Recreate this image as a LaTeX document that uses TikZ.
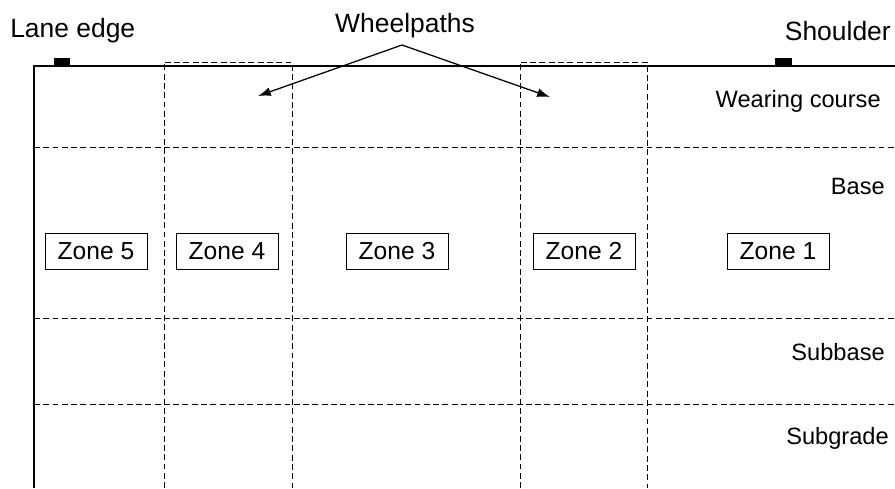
\documentclass[tikz,border=0pt]{standalone}
\usepackage{fontspec}
\setmainfont{Liberation Sans}
\usepackage{tikz}
\usetikzlibrary{arrows.meta}

\begin{document}
\begin{tikzpicture}[x=0.025cm, y=-0.025cm,
% common options for the zone boxes:
zone/.style = {draw, line width=0.6pt, align=center, inner sep=0,
            minimum width=2.55cm, minimum height=0.9cm,
            font=\fontsize{17.5}{20}\selectfont},
% common options for the layer names:
layer/.style = {anchor=east, inner sep=0, font=\fontsize{16.8}{20}\selectfont},
% common options for the grid:
grid/.style = {line width=0.65pt, dash pattern=on 4.2pt off 2.4pt},
every node/.style = {font=\fontsize{18.8}{22}\selectfont}]
\useasboundingbox (0,0) rectangle (895,488);
% outer edge of the lane
\draw[line width=0.75pt] (895,66) -- (34,66) -- (34,488);
\fill (54,58) rectangle (70,66);
\fill (775,58) rectangle (792,66);
% layers
\draw[grid] (34,147) -- (895,147);
\draw[grid] (34,318) -- (895,318);
\draw[grid] (34,404) -- (895,404);
% wheelpaths
\draw[grid] (164,488) -- (164,62) -- (292,62) -- (292,488);
\draw[grid] (520,488) -- (520,62) -- (647,62) -- (647,488);
% labels
\node[anchor=west, inner sep=0] (lane) at (10,31) {Lane edge};
\node[anchor=east, inner sep=0] (shoulder) at (891,31) {Shoulder};
\node[inner sep=0] (wheel) at (405,26) {Wheelpaths};
\node[layer] (wearing) at (881,101) {Wearing course};
\node[layer] (base) at (885,186) {Base};
\node[layer] (subbase) at (885,352) {Subbase};
\node[layer] (subgrade) at (889,438) {Subgrade};
\node[zone] (Z5) at (96,251) {Zone 5};
\node[zone] (Z4) at (227,251) {Zone 4};
\node[zone] (Z3) at (397,251) {Zone 3};
\node[zone] (Z2) at (584,251) {Zone 2};
\node[zone] (Z1) at (778,251) {Zone 1};
\coordinate (apex) at (402,45);
\coordinate (W4) at (258,96);
\coordinate (W2) at (550,97);
\draw[-{Latex[length=3.2mm,width=2.2mm]}, line width=0.9pt] (apex) -- (W4);
\draw[-{Latex[length=3.2mm,width=2.2mm]}, line width=0.9pt] (apex) -- (W2);
\end{tikzpicture}
\end{document}
